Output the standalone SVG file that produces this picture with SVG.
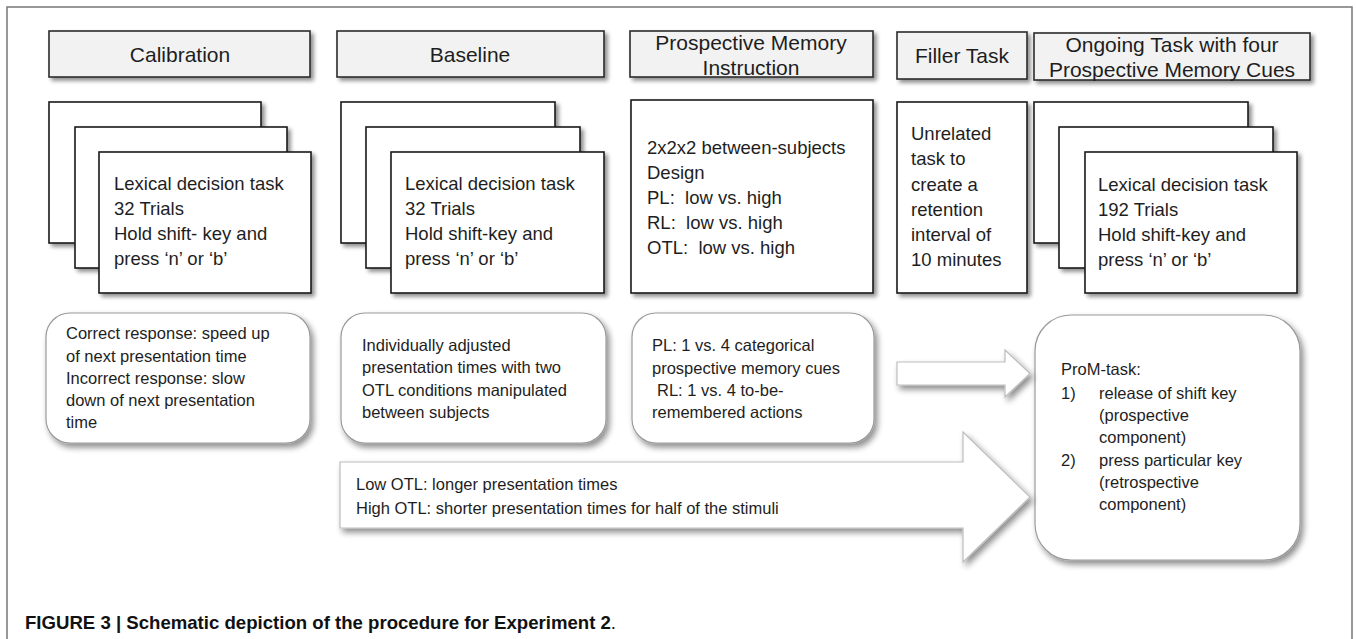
<svg xmlns="http://www.w3.org/2000/svg" width="1356" height="639" viewBox="0 0 1356 639">
<defs>
<filter id="sh" x="-10%" y="-10%" width="130%" height="130%">
<feGaussianBlur in="SourceAlpha" stdDeviation="2"/>
<feOffset dx="3" dy="3" result="o"/>
<feComponentTransfer><feFuncA type="linear" slope="0.45"/></feComponentTransfer>
<feMerge><feMergeNode/><feMergeNode in="SourceGraphic"/></feMerge>
</filter>
<filter id="sh2" x="-10%" y="-10%" width="130%" height="130%">
<feGaussianBlur in="SourceAlpha" stdDeviation="3"/>
<feOffset dx="3" dy="4"/>
<feComponentTransfer><feFuncA type="linear" slope="0.45"/></feComponentTransfer>
<feMerge><feMergeNode/><feMergeNode in="SourceGraphic"/></feMerge>
</filter>
</defs>
<style>
.hdr{fill:#f2f2f2;stroke:#2a2a2a;stroke-width:1.6;filter:url(#sh)}
.box{fill:#fff;stroke:#1a1a1a;stroke-width:1.6;filter:url(#sh)}
.rnd{fill:#fff;stroke:#9a9a9a;stroke-width:1.2;filter:url(#sh2)}
.arr{fill:#fff;stroke:#bdbdbd;stroke-width:1.2;filter:url(#sh2)}
text{font-family:"Liberation Sans",Arial,sans-serif;fill:#1e1e1e}
.h{font-size:21px;text-anchor:middle}
.t{font-size:18.5px}
.s{font-size:16.5px}
.cap{font-size:18.6px;font-weight:bold;fill:#111}
</style>
<rect width="1356" height="639" fill="#fff"/>
<path d="M7,639 V7 H1352 V639" fill="none" stroke="#777" stroke-width="1.5"/>

<g id="calibration-header"><rect class="hdr" x="49" y="31" width="261" height="46"/><text class="h" x="180" y="62">Calibration</text></g>
<g id="baseline-header"><rect class="hdr" x="337" y="31" width="267" height="46"/><text class="h" x="470" y="62">Baseline</text></g>
<g id="pm-header"><rect class="hdr" x="630" y="31" width="243" height="46"/><text class="h" x="751" y="50">Prospective Memory</text><text class="h" x="751" y="75">Instruction</text></g>
<g id="filler-header"><rect class="hdr" x="897" y="32" width="130" height="47"/><text class="h" x="962" y="63">Filler Task</text></g>
<g id="ongoing-header"><rect class="hdr" x="1034" y="33" width="276" height="47"/><text class="h" x="1172" y="52">Ongoing Task with four</text><text class="h" x="1172" y="77">Prospective Memory Cues</text></g>

<g id="calibration-task">
<rect class="box" x="49" y="102" width="212" height="141"/>
<rect class="box" x="75" y="127" width="212" height="141"/>
<rect class="box" x="99" y="152" width="212" height="141"/>
<text class="t" x="114" y="190">Lexical decision task</text>
<text class="t" x="114" y="215">32 Trials</text>
<text class="t" x="114" y="240">Hold shift- key and</text>
<text class="t" x="114" y="265">press ‘n’ or ‘b’</text>
</g>
<g id="baseline-task">
<rect class="box" x="341" y="102" width="214" height="141"/>
<rect class="box" x="366" y="127" width="214" height="141"/>
<rect class="box" x="391" y="152" width="213" height="141"/>
<text class="t" x="405" y="190">Lexical decision task</text>
<text class="t" x="405" y="215">32 Trials</text>
<text class="t" x="405" y="240">Hold shift-key and</text>
<text class="t" x="405" y="265">press ‘n’ or ‘b’</text>
</g>
<g id="pm-design">
<rect class="box" x="631" y="100" width="242" height="193"/>
<text class="t" x="647" y="154">2x2x2 between-subjects</text>
<text class="t" x="647" y="179">Design</text>
<text class="t" x="647" y="204">PL:&#160; low vs. high</text>
<text class="t" x="647" y="229">RL:&#160; low vs. high</text>
<text class="t" x="647" y="254">OTL:&#160; low vs. high</text>
</g>
<g id="filler-task">
<rect class="box" x="897" y="102" width="130" height="191"/>
<text class="t" x="911" y="140">Unrelated</text>
<text class="t" x="911" y="165">task to</text>
<text class="t" x="911" y="191">create a</text>
<text class="t" x="911" y="216">retention</text>
<text class="t" x="911" y="241">interval of</text>
<text class="t" x="911" y="266">10 minutes</text>
</g>
<g id="ongoing-task">
<rect class="box" x="1034" y="102" width="214" height="141"/>
<rect class="box" x="1059" y="127" width="214" height="141"/>
<rect class="box" x="1085" y="152" width="212" height="141"/>
<text class="t" x="1098" y="191">Lexical decision task</text>
<text class="t" x="1098" y="216">192 Trials</text>
<text class="t" x="1098" y="241">Hold shift-key and</text>
<text class="t" x="1098" y="266">press ‘n’ or ‘b’</text>
</g>

<g id="calibration-note">
<rect class="rnd" x="46" y="313" width="264" height="130" rx="24"/>
<text class="s" x="66" y="339">Correct response: speed up</text>
<text class="s" x="66" y="362">of next presentation time</text>
<text class="s" x="66" y="384">Incorrect response: slow</text>
<text class="s" x="66" y="406">down of next presentation</text>
<text class="s" x="66" y="428">time</text>
</g>
<g id="baseline-note">
<rect class="rnd" x="341" y="313" width="265" height="130" rx="24"/>
<text class="s" x="362" y="351">Individually adjusted</text>
<text class="s" x="362" y="373">presentation times with two</text>
<text class="s" x="362" y="396">OTL conditions manipulated</text>
<text class="s" x="362" y="418">between subjects</text>
</g>
<g id="pm-note">
<rect class="rnd" x="632" y="313" width="242" height="130" rx="24"/>
<text class="s" x="652" y="351">PL: 1 vs. 4 categorical</text>
<text class="s" x="652" y="374">prospective memory cues</text>
<text class="s" x="657" y="396">RL: 1 vs. 4 to-be-</text>
<text class="s" x="652" y="418">remembered actions</text>
</g>
<g id="prom-task">
<rect class="rnd" x="1035" y="315" width="265" height="245" rx="36"/>
<text class="s" x="1061" y="375">ProM-task:</text>
<text class="s" x="1061" y="399">1)</text>
<text class="s" x="1099" y="399">release of shift key</text>
<text class="s" x="1099" y="421">(prospective</text>
<text class="s" x="1099" y="443">component)</text>
<text class="s" x="1061" y="466">2)</text>
<text class="s" x="1099" y="466">press particular key</text>
<text class="s" x="1099" y="488">(retrospective</text>
<text class="s" x="1099" y="510">component)</text>
</g>

<g id="connectors">
<polygon class="arr" points="897,362 1005,362 1005,350 1030,373.5 1005,397 1005,385 897,385"/>
<polygon class="arr" points="340,462 963,462 963,432 1030,497 963,562 963,528 340,528"/>
<text class="s" x="356" y="490">Low OTL: longer presentation times</text>
<text class="s" x="356" y="514">High OTL: shorter presentation times for half of the stimuli</text>
</g>

<text class="cap" x="25" y="629">FIGURE 3 | Schematic depiction of the procedure for Experiment 2<tspan font-weight="normal">.</tspan></text>
</svg>
